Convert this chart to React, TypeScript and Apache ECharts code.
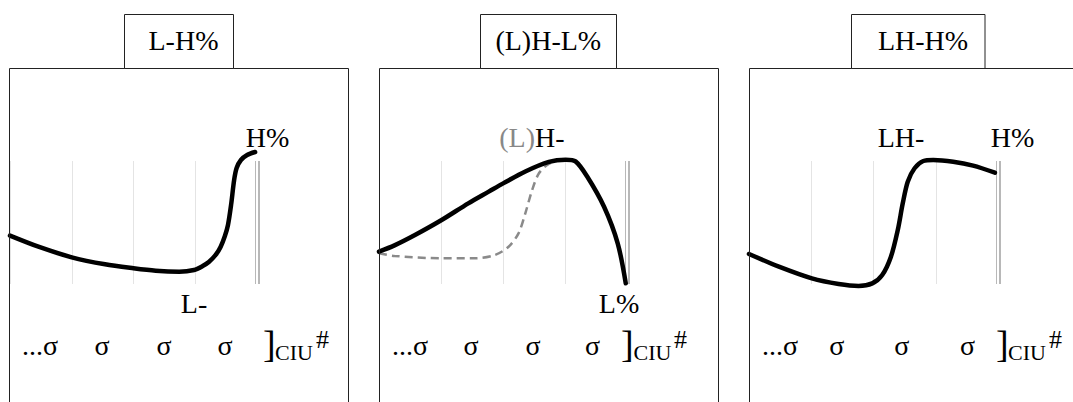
import React, { useEffect, useRef } from "react";
import * as echarts from "echarts";

// ---- data (x: syllable position 0..4, y: relative pitch 0..100) ----
const titles = ["L-H%", "(L)H-L%", "LH-H%"];
const syllableLabels = ["...σ", "σ", "σ", "σ"];
const boundaryLabel = ["]", "CIU", "#"];

const p1X = [0, 0.46, 1.0, 1.54, 2.0, 2.36, 2.74, 2.98, 3.12, 3.22, 3.33, 3.41, 3.48, 3.53, 3.58, 3.63, 3.67, 3.74, 3.84, 3.97];
const p1Y = [39.3, 30.3, 21.7, 16, 12.8, 10.8, 10, 11.4, 14.6, 17.9, 23.6, 30.1, 39, 48, 64.2, 84.6, 94.3, 100.8, 104.9, 107.3];

const p2X = [0, 0.25, 0.58, 1.01, 1.44, 1.77, 2.01, 2.36, 2.74, 3.01, 3.17, 3.36, 3.63, 3.85, 3.98];
const p2Y = [26.3, 31.4, 39.8, 52, 65.6, 75.1, 82, 91.5, 99.3, 101.1, 99.7, 87.2, 62.8, 33.1, 0.6];

const p2dX = [0, 0.25, 1.01, 1.55, 1.87, 2.09, 2.25, 2.36, 2.47, 2.58, 2.74, 2.96, 3.12];
const p2dY = [25, 22.8, 20.9, 20.9, 23.6, 30.3, 41.2, 57.5, 76.4, 90, 97.6, 100.8, 100.8];

const p3X = [0, 0.48, 1.01, 1.44, 1.76, 1.98, 2.14, 2.28, 2.39, 2.47, 2.55, 2.66, 2.8, 2.96, 3.28, 3.6, 3.95];
const p3Y = [24.4, 14.1, 4.6, 0, -1.6, 0.5, 7.3, 22.2, 43.9, 65.6, 83.2, 94.1, 100, 100.8, 99.4, 96.2, 90.5];

const boundaryX = 4;

const zip = (xs: number[], ys: number[]) => xs.map((x, i) => [x, ys[i]]);

const FONT = "'Liberation Serif', 'Times New Roman', 'DejaVu Serif', serif";
const FS = 28;
const mid = (baseline: number, fs: number) => baseline - 0.3375 * fs;

function txt(x: number, baseline: number, text: string, fs = FS, fill = "#000", align = "center") {
  return {
    type: "text",
    z: 100,
    silent: true,
    style: {
      x,
      y: mid(baseline, fs),
      text,
      fill,
      fontSize: fs,
      fontFamily: FONT,
      align,
      verticalAlign: "middle",
    },
  };
}

function rect(x: number, y: number, w: number, h: number, fill = "none") {
  return {
    type: "rect",
    z: 90,
    silent: true,
    shape: { x, y, width: w, height: h },
    style: { fill, stroke: "#222", lineWidth: 1 },
  };
}

export default function App() {
  const ref = useRef<HTMLDivElement>(null);
  useEffect(() => {
    if (!ref.current) return;
    const chart = echarts.init(ref.current, null, { renderer: "svg" });

    const grids = [
      { left: 10, top: 161, width: 247, height: 123 },
      { left: 379, top: 161, width: 248, height: 123 },
      { left: 749, top: 161, width: 249, height: 123 },
    ];

    const xAxes = grids.map((_, i) => ({
      type: "value",
      gridIndex: i,
      min: 0,
      max: 4,
      interval: 1,
      axisLine: { show: false },
      axisTick: { show: false },
      axisLabel: { show: false },
      splitLine: { show: true, lineStyle: { color: "#e4e4e4", width: 1 } },
    }));
    const yAxes = grids.map((_, i) => ({
      type: "value",
      gridIndex: i,
      min: 0,
      max: 100,
      show: false,
      splitLine: { show: false },
    }));

    // phrase-boundary double bar: a wide gray band with a thin white core
    const doubleLine = () => ({
      silent: true,
      symbol: "none",
      z: 1,
      label: { show: false },
      emphasis: { disabled: true },
      data: [
        { xAxis: boundaryX, lineStyle: { color: "#b8b8b8", type: "solid", width: 5 } },
        { xAxis: boundaryX, lineStyle: { color: "#ffffff", type: "solid", width: 2 } },
      ],
    });

    const solid = (data: number[][], i: number) => ({
      type: "line",
      xAxisIndex: i,
      yAxisIndex: i,
      data,
      smooth: 0.3,
      showSymbol: false,
      clip: false,
      z: 10,
      lineStyle: { color: "#000", width: 4.5, cap: "round", join: "round" },
      markLine: doubleLine(),
    });

    const series = [
      solid(zip(p1X, p1Y), 0),
      solid(zip(p2X, p2Y), 1),
      {
        type: "line",
        xAxisIndex: 1,
        yAxisIndex: 1,
        data: zip(p2dX, p2dY),
        smooth: 0.3,
        showSymbol: false,
        clip: false,
        z: 8,
        lineStyle: { color: "#8a8a8a", width: 2.5, type: [8, 5] },
      },
      solid(zip(p3X, p3Y), 2),
    ];

    const frameLefts = [9.5, 379.5, 749.5];
    const frameWidths = [339, 339, 400];
    const titleBoxes = [
      [124.5, 109],
      [480.5, 136],
      [851.5, 133.5],
    ];
    const titleCenters = [183.5, 548.3, 923];
    const sigmaCenters = [
      [40, 102, 164, 225],
      [410, 471, 533, 592.5],
      [780, 836.7, 901.7, 967.5],
    ];
    const bracketLefts = [
      [263, 275, 316],
      [621, 633.5, 674],
      [996, 1008, 1049],
    ];

    const graphics: any[] = [];
    for (let p = 0; p < 3; p++) {
      graphics.push(rect(frameLefts[p], 68.5, frameWidths[p], 400));
      graphics.push(rect(titleBoxes[p][0], 14.5, titleBoxes[p][1], 54, "#fff"));
      graphics.push(txt(titleCenters[p], 50, titles[p]));
      syllableLabels.forEach((s, k) => graphics.push(txt(sigmaCenters[p][k], 355, s)));
      graphics.push(txt(bracketLefts[p][0], 357, boundaryLabel[0], 38, "#000", "left"));
      graphics.push(txt(bracketLefts[p][1], 360, boundaryLabel[1], 22, "#000", "left"));
      graphics.push(txt(bracketLefts[p][2], 348, boundaryLabel[2], 26, "#000", "left"));
    }
    // tone labels
    graphics.push(txt(267.5, 147, "H%"));
    graphics.push(txt(194, 313, "L-"));
    graphics.push(txt(535, 147, "(L)", FS, "#888", "right"));
    graphics.push(txt(535, 147, "H-", FS, "#000", "left"));
    graphics.push(txt(619, 313, "L%"));
    graphics.push(txt(901, 147, "LH-"));
    graphics.push(txt(1012.5, 147, "H%"));

    chart.setOption({
      animation: false,
      backgroundColor: "#fff",
      grid: grids,
      xAxis: xAxes,
      yAxis: yAxes,
      series,
      graphic: graphics,
    });
    return () => chart.dispose();
  }, []);
  return (
    <div
      ref={ref}
      style={{ position: "absolute", left: 0, top: 0, width: 1073, height: 402 }}
    />
  );
}
